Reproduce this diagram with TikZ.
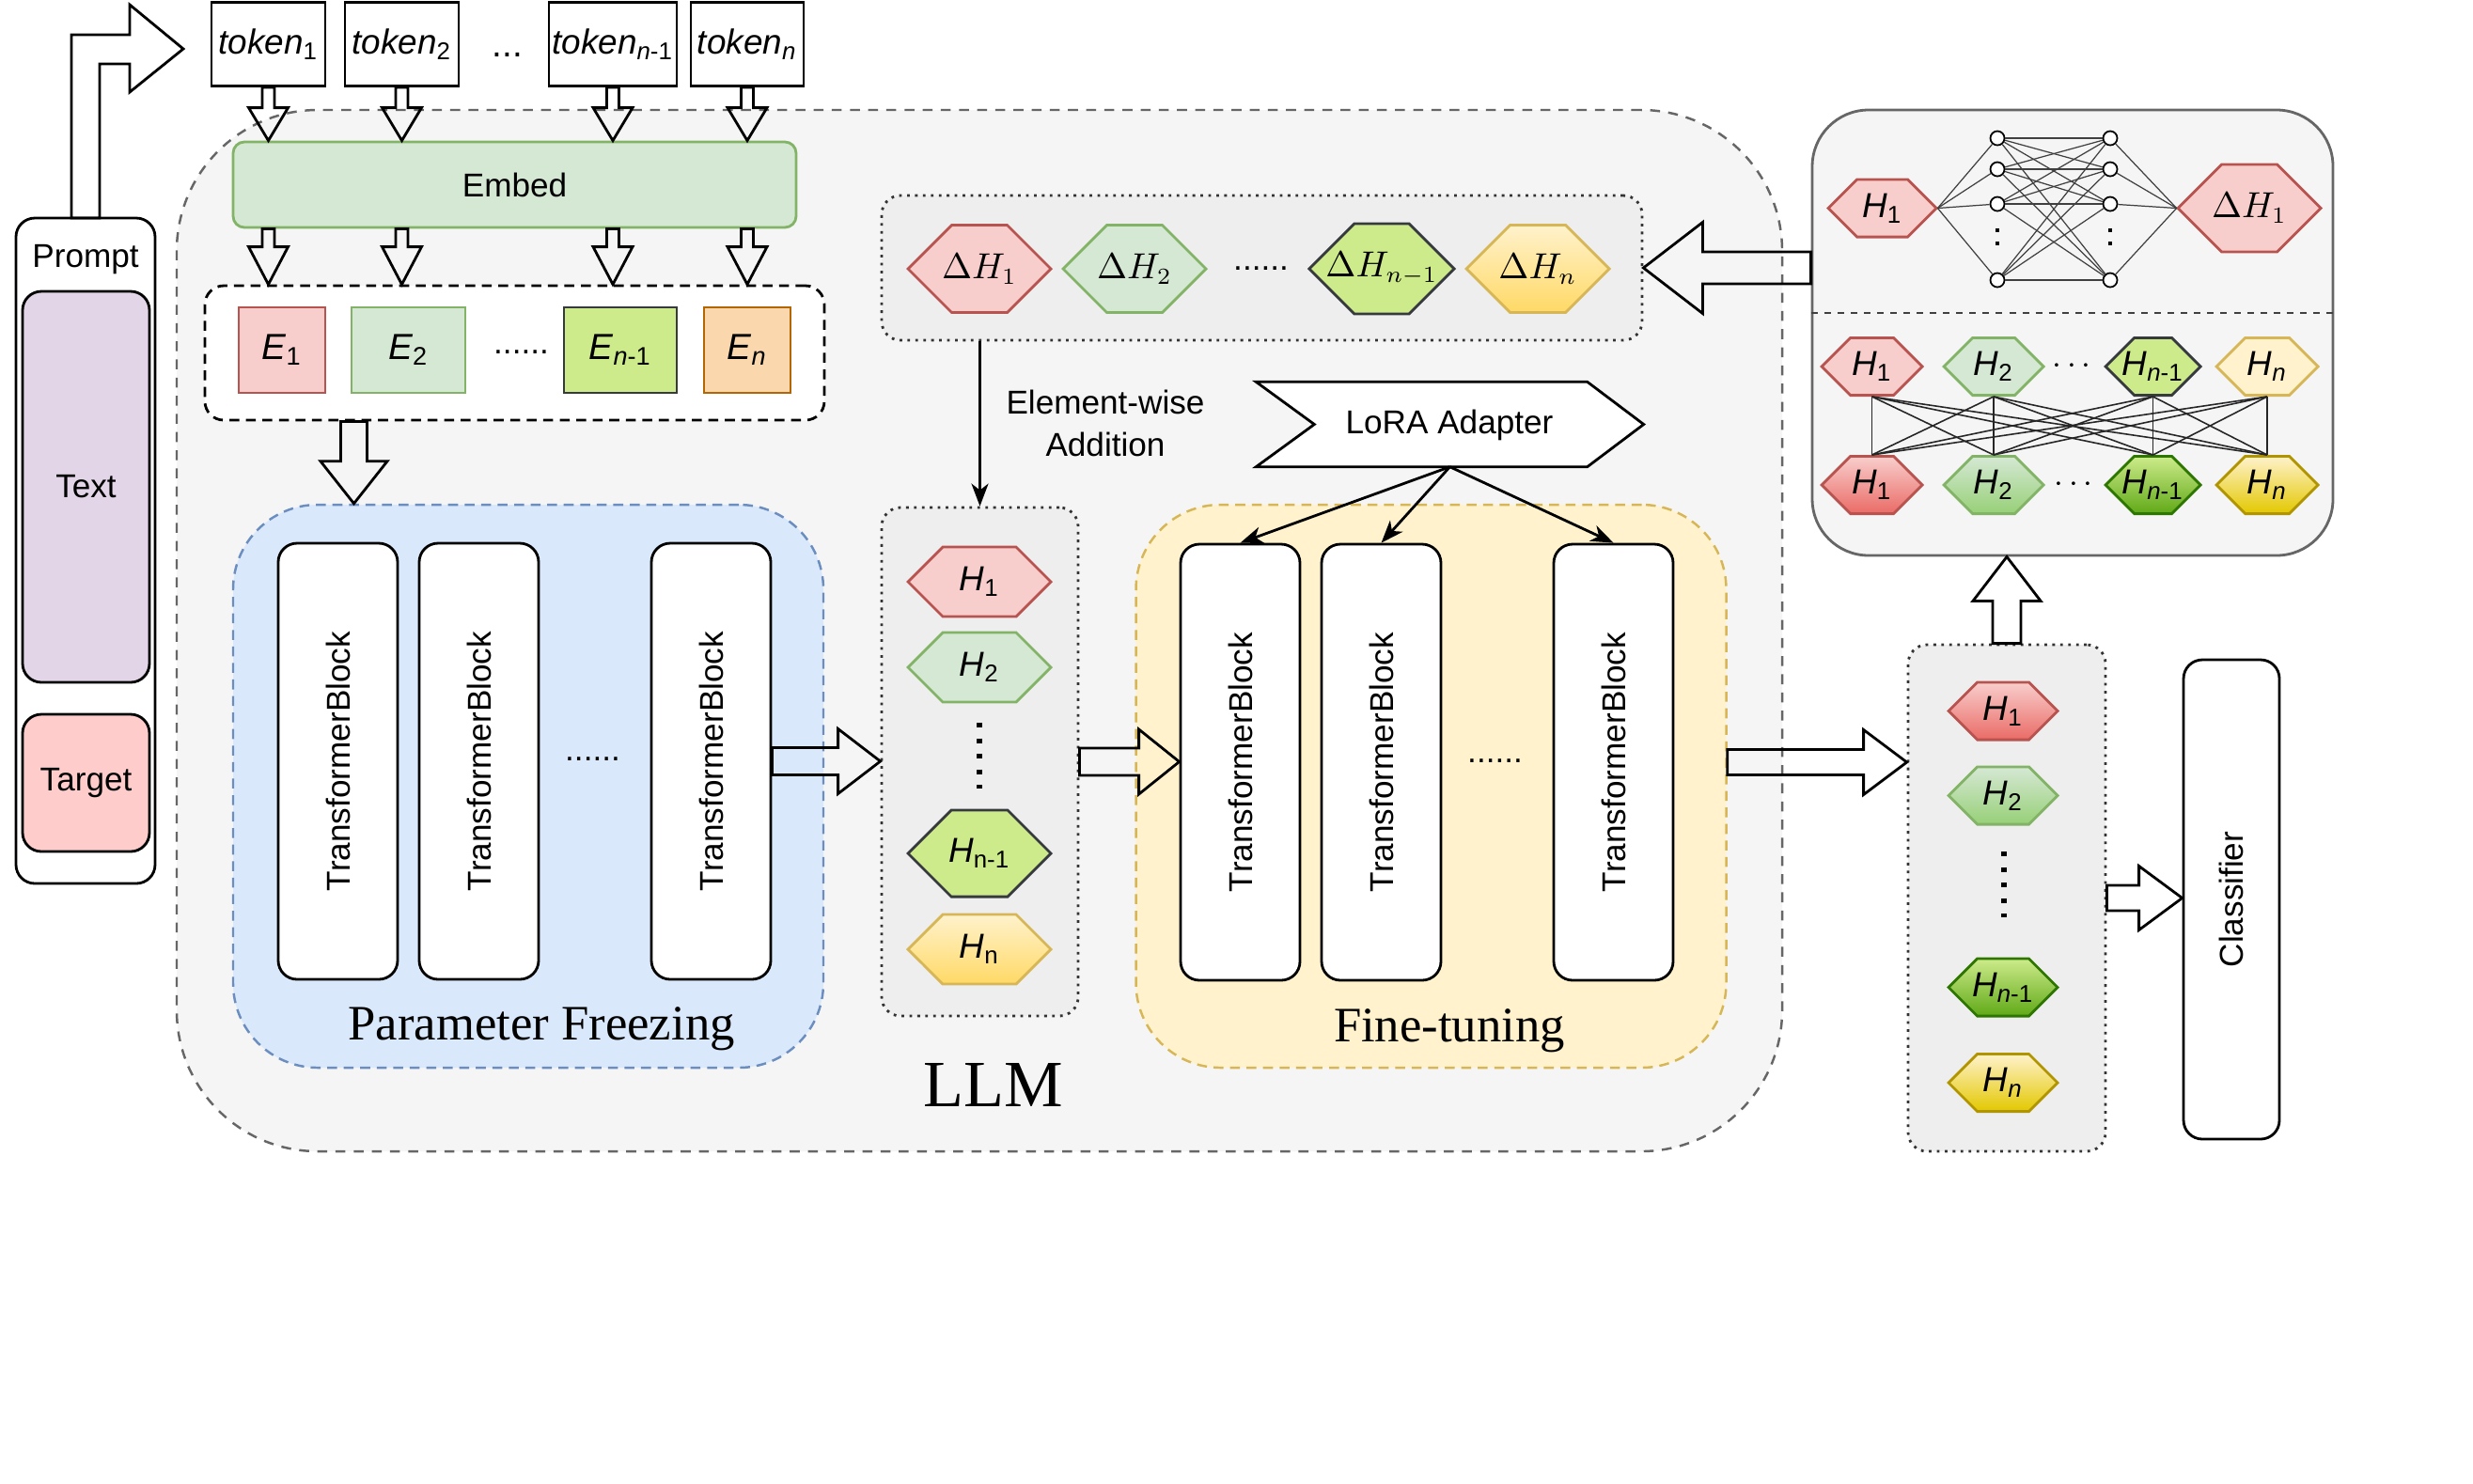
\documentclass[tikz,border=0pt]{standalone}
\usepackage{fontspec}
\setmainfont{Liberation Sans}
\newfontfamily\timesfont{Liberation Serif}
\usepackage{tikz}
\usetikzlibrary{calc,arrows.meta,shapes.misc}

\definecolor{redF}{HTML}{F8CECC}
\definecolor{redS}{HTML}{B85450}
\definecolor{redD}{HTML}{EA6B66}
\definecolor{greenF}{HTML}{D5E8D4}
\definecolor{greenS}{HTML}{82B366}
\definecolor{greenD}{HTML}{97D077}
\definecolor{limeF}{HTML}{CDEB8B}
\definecolor{limeS}{HTML}{36393D}
\definecolor{limeD}{HTML}{60A917}
\definecolor{limeDS}{HTML}{2D7600}
\definecolor{yelF}{HTML}{FFF2CC}
\definecolor{yelS}{HTML}{D6B656}
\definecolor{yelM}{HTML}{FFD966}
\definecolor{yelD}{HTML}{E3C800}
\definecolor{yelDS}{HTML}{B09500}
\definecolor{orangeF}{HTML}{FAD7AC}
\definecolor{orangeS}{HTML}{B46504}
\definecolor{blueF}{HTML}{DAE8FC}
\definecolor{blueS}{HTML}{6C8EBF}
\definecolor{purF}{HTML}{E1D5E7}
\definecolor{targetF}{HTML}{FFCCCC}
\definecolor{greyF}{HTML}{F5F5F5}
\definecolor{greyS}{HTML}{666666}
\definecolor{boxF}{HTML}{EEEEEE}

\newcommand{\hsub}[2]{\textit{#1}\textsubscript{#2}}
% hollow block arrow: from, to, shaft half width, head half width, head length
\newcommand{\fatarrow}[5]{%
  \coordinate (fabase) at ($(#2)!#5!(#1)$);
  \draw[hollow] ($(#1)!#3!90:(#2)$) -- ($(fabase)!#3!90:(#2)$) -- ($(fabase)!#4!90:(#2)$) -- (#2)
    -- ($(fabase)!#4!-90:(#2)$) -- ($(fabase)!#3!-90:(#2)$) -- ($(#1)!#3!-90:(#2)$) -- cycle;}

\tikzset{
  every node/.style={font=\fontsize{10}{12}\selectfont},
  llmframe/.style={draw=greyS, fill=greyF, line width=0.7pt, dash pattern=on 3pt off 2.5pt,
    rounded corners=1.5cm, minimum width=17.08cm, minimum height=11.08cm},
  plainbox/.style={draw, line width=0.8pt, inner sep=0pt},
  rbox/.style={plainbox, rounded corners=0.2cm},
  tokbox/.style={plainbox, minimum height=0.89cm, font=\fontsize{10.5}{12}\selectfont},
  ebox/.style={draw, line width=0.8pt, minimum height=0.91cm, inner sep=0pt, font=\fontsize{11}{13}\selectfont},
  tblock/.style={rbox, fill=white, minimum width=1.27cm, minimum height=4.64cm, font=\fontsize{10}{12}\selectfont},
  stagebox/.style={line width=0.7pt, dash pattern=on 3pt off 2pt, rounded corners=0.9cm,
    minimum width=6.28cm, minimum height=5.99cm},
  stagetitle/.style={font=\timesfont\fontsize{15}{18}\selectfont},
  dotbox/.style={draw=black!80, fill=boxF, line width=0.8pt, dash pattern=on 0.8pt off 1.6pt, rounded corners=0.2cm},
  hexnode/.style={chamfered rectangle, chamfered rectangle xsep=0.57cm, chamfered rectangle ysep=0.305cm,
    minimum width=1.52cm, minimum height=0.61cm, inner sep=0pt, line width=0.8pt, font=\fontsize{10.5}{12}\selectfont},
  octnode/.style={chamfered rectangle, chamfered rectangle xsep=0.27cm, chamfered rectangle ysep=0.15cm,
    minimum height=0.61cm, inner sep=0pt, line width=0.8pt, font=\fontsize{10.5}{12}\selectfont},
  hollow/.style={draw, line width=0.8pt, line join=miter},
  thinarrow/.style={line width=0.8pt, -{Stealth[length=2.4mm,width=1.8mm,inset=0.7mm]}},
  dotsline/.style={line width=1.5pt, dash pattern=on 1.5pt off 3.2pt},
  smalldots/.style={line width=1.2pt, dash pattern=on 1.2pt off 2.8pt},
  nnunit/.style={circle, draw, fill=white, line width=0.5pt, minimum size=0.15cm, inner sep=0pt},
  nnline/.style={line width=0.35pt, black!75},
  meshline/.style={line width=0.45pt, black!85},
  divider/.style={line width=0.6pt, black!75, dash pattern=on 2pt off 2pt},
}

\begin{document}
\begin{tikzpicture}
  \useasboundingbox (0,0) rectangle (26.31,-15.78);
  \fill[white] (0,0) rectangle (26.31,-15.78);

  % LLM frame
  \node[llmframe] (llm) at (10.42,-6.71) {};
  \node[font=\timesfont\fontsize{20}{24}\selectfont] (llmlabel) at (10.57,-11.54) {LLM};

  % prompt
  \node[rbox, fill=white, minimum width=1.48cm, minimum height=7.08cm] (prompt) at (0.91,-5.86) {};
  \node (prompttxt) at (0.91,-2.76) {Prompt};
  \node[rbox, fill=purF, minimum width=1.35cm, minimum height=4.16cm] (text) at (0.915,-5.18) {Text};
  \node[rbox, fill=targetF, minimum width=1.35cm, minimum height=1.46cm] (target) at (0.915,-8.33) {Target};
  \draw[hollow] (0.76,-2.32) -- (0.76,-0.37) -- (1.38,-0.37) -- (1.38,-0.05) -- (1.95,-0.52)
    -- (1.38,-0.98) -- (1.38,-0.68) -- (1.06,-0.68) -- (1.06,-2.32) -- cycle;

  % tokens
  \node[tokbox, minimum width=1.21cm] (tok1) at (2.855,-0.47) {\hsub{token}{1}};
  \node[tokbox, minimum width=1.21cm] (tok2) at (4.275,-0.47) {\hsub{token}{2}};
  \node[font=\fontsize{11}{13}\selectfont] (tokdots) at (5.40,-0.58) {...};
  \node[tokbox, minimum width=1.36cm] (tokm) at (6.52,-0.47) {\hsub{token}{\textit{n}-1}};
  \node[tokbox, minimum width=1.20cm] (tokn) at (7.95,-0.47) {\hsub{token}{\textit{n}}};

  % embedding
  \node[rbox, draw=greenS, fill=greenF, rounded corners=0.12cm, minimum width=5.99cm, minimum height=0.91cm] (embed) at (5.475,-1.965) {Embed};
  \node[plainbox, fill=white, dash pattern=on 3pt off 2pt, rounded corners=0.2cm, minimum width=6.59cm, minimum height=1.43cm] (ebox) at (5.475,-3.755) {};
  \node[ebox, draw=redS, fill=redF, minimum width=0.92cm] (e1) at (3.00,-3.725) {\hsub{E}{1}};
  \node[ebox, draw=greenS, fill=greenF, minimum width=1.21cm] (e2) at (4.345,-3.725) {\hsub{E}{2}};
  \node (edots) at (5.545,-3.75) {......};
  \node[ebox, draw=limeS, fill=limeF, minimum width=1.20cm] (em) at (6.60,-3.725) {\hsub{E}{\textit{n}-1}};
  \node[ebox, draw=orangeS, fill=orangeF, minimum width=0.92cm] (en) at (7.95,-3.725) {\hsub{E}{\textit{n}}};
  \foreach \t in {tok1,tok2,tokm,tokn} {
    \fatarrow{\t.south}{\t.south |- embed.north}{0.065cm}{0.21cm}{0.35cm}
    \fatarrow{\t.south |- embed.south}{\t.south |- ebox.north}{0.065cm}{0.21cm}{0.40cm}
  }

  % frozen blocks
  \node[stagebox, draw=blueS, fill=blueF] (frozen) at (5.62,-8.365) {};
  \node[stagetitle] (frozentitle) at (5.76,-10.95) {Parameter Freezing};
  \foreach \n/\x in {fz1/3.595,fz2/5.095,fz3/7.565}
    \node[tblock] (\n) at (\x,-8.10) {\rotatebox{90}{TransformerBlock}};
  \node (fzdots) at (6.305,-8.08) {......};
  \path (ebox.south) ++(-1.71,0) coordinate (e2f);
  \fatarrow{e2f}{e2f |- frozen.north}{0.14cm}{0.355cm}{0.45cm}

  % hidden states inside the LLM
  \node[dotbox, minimum width=2.09cm, minimum height=5.41cm] (hcol) at (10.425,-8.105) {};
  \node[hexnode, draw=redS, fill=redF] (h1) at (10.42,-6.19) {\hsub{H}{1}};
  \node[hexnode, draw=greenS, fill=greenF] (h2) at (10.42,-7.10) {\hsub{H}{2}};
  \draw[dotsline] (10.42,-7.69) -- (10.42,-8.39);
  \node[hexnode, draw=limeS, fill=limeF] (hm) at (10.42,-9.08) {\hsub{H}{n-1}};
  \node[hexnode, draw=yelS, top color=yelF, bottom color=yelM] (hn) at (10.42,-10.10) {\hsub{H}{n}};

  % delta H
  \node[dotbox, minimum width=8.09cm, minimum height=1.54cm] (dbox) at (13.425,-2.85) {};
  \node[hexnode, draw=redS, fill=redF] (dh1) at (10.42,-2.86) {$\Delta H_1$};
  \node[hexnode, draw=greenS, fill=greenF] (dh2) at (12.07,-2.86) {$\Delta H_2$};
  \node (dhdots) at (13.415,-2.86) {......};
  \node[hexnode, draw=limeS, fill=limeF] (dhm) at (14.70,-2.86) {$\Delta H_{n-1}$};
  \node[hexnode, draw=yelS, top color=yelF, bottom color=yelM] (dhn) at (16.36,-2.86) {$\Delta H_n$};
  \draw[thinarrow] (hcol.north |- dbox.south) -- (hcol.north);
  \node[align=center, font=\fontsize{10}{12.8}\selectfont] (addlabel) at (11.76,-4.50) {Element-wise\\Addition};

  % LoRA adapter
  \node[minimum width=4.11cm, minimum height=0.89cm, inner sep=0pt] (lora) at (15.425,-4.515) {};
  \draw[draw, fill=white, line width=0.8pt] (lora.north west) -- ([xshift=-0.6cm]lora.north east) -- (lora.east)
    -- ([xshift=-0.6cm]lora.south east) -- (lora.south west) -- ([xshift=0.62cm]lora.west) -- cycle;
  \node (loratext) at (15.42,-4.52) {LoRA Adapter};

  % fine-tuned blocks
  \node[stagebox, draw=yelS, fill=yelF] (fine) at (15.225,-8.365) {};
  \node[stagetitle] (finetitle) at (15.42,-10.97) {Fine-tuning};
  \foreach \n/\x in {ft1/13.195,ft2/14.695,ft3/17.165}
    \node[tblock] (\n) at (\x,-8.11) {\rotatebox{90}{TransformerBlock}};
  \node (ftdots) at (15.905,-8.10) {......};
  \foreach \t in {ft1,ft2,ft3}
    \draw[thinarrow] (lora.south) -- (\t.north);

  % output hidden states
  \node[dotbox, minimum width=2.10cm, minimum height=5.39cm] (rcol) at (21.35,-9.555) {};
  \node[octnode, minimum width=1.16cm, draw=redS, top color=redF, bottom color=redD] (r1) at (21.31,-7.565) {\hsub{H}{1}};
  \node[octnode, minimum width=1.16cm, draw=greenS, top color=greenF, bottom color=greenD] (r2) at (21.31,-8.465) {\hsub{H}{2}};
  \draw[dotsline] (21.32,-9.06) -- (21.32,-9.76);
  \node[octnode, minimum width=1.16cm, draw=limeDS, top color=limeF, bottom color=limeD] (r3) at (21.31,-10.505) {\hsub{H}{\textit{n}-1}};
  \node[octnode, minimum width=1.16cm, draw=yelDS, top color=yelF, bottom color=yelD] (r4) at (21.31,-11.52) {\hsub{H}{\textit{n}}};
  \node[rbox, fill=white, minimum width=1.02cm, minimum height=5.10cm] (clf) at (23.74,-9.57) {\rotatebox{90}{Classifier}};

  % adapter detail panel
  \node[draw=greyS, fill=greyF, line width=0.8pt, rounded corners=0.6cm, minimum width=5.54cm, minimum height=4.74cm] (panel) at (22.05,-3.54) {};
  \draw[divider] (panel.west |- 0,-3.33) -- (panel.east |- 0,-3.33);
  \node[octnode, minimum width=1.15cm, draw=redS, fill=redF] (p0) at (20.025,-2.215) {\hsub{H}{1}};
  \node[hexnode, draw=redS, fill=redF] (pd) at (23.93,-2.215) {$\Delta H_1$};
  \foreach \i/\y in {1/-1.47,2/-1.80,3/-2.17,4/-2.98} {
    \node[nnunit] (a\i) at (21.25,\y) {};
    \node[nnunit] (b\i) at (22.45,\y) {};
  }
  \draw[smalldots] (21.25,-2.43) -- (21.25,-2.70);
  \draw[smalldots] (22.45,-2.43) -- (22.45,-2.70);
  \foreach \i in {1,...,4} {
    \draw[nnline] (p0.east) -- (a\i);
    \draw[nnline] (b\i) -- (pd.west);
    \foreach \j in {1,...,4}
      \draw[nnline] (a\i) -- (b\j);
  }
  \node[octnode, minimum width=1.07cm, chamfered rectangle xsep=0.25cm, draw=redS, fill=redF] (q1) at (19.915,-3.90) {\hsub{H}{1}};
  \node[octnode, minimum width=1.06cm, chamfered rectangle xsep=0.25cm, draw=greenS, fill=greenF] (q2) at (21.21,-3.90) {\hsub{H}{2}};
  \node (qdots) at (22.04,-3.90) {$\cdots$};
  \node[octnode, minimum width=1.01cm, chamfered rectangle xsep=0.25cm, draw=limeS, fill=limeF] (q3) at (22.905,-3.90) {\hsub{H}{\textit{n}-1}};
  \node[octnode, minimum width=1.08cm, chamfered rectangle xsep=0.25cm, draw=yelS, fill=yelF] (q4) at (24.12,-3.90) {\hsub{H}{\textit{n}}};
  \node[octnode, minimum width=1.07cm, chamfered rectangle xsep=0.25cm, draw=redS, top color=redF, bottom color=redD] (s1) at (19.915,-5.16) {\hsub{H}{1}};
  \node[octnode, minimum width=1.06cm, chamfered rectangle xsep=0.25cm, draw=greenS, top color=greenF, bottom color=greenD] (s2) at (21.21,-5.16) {\hsub{H}{2}};
  \node (sdots) at (22.06,-5.16) {$\cdots$};
  \node[octnode, minimum width=1.01cm, chamfered rectangle xsep=0.25cm, draw=limeDS, top color=limeF, bottom color=limeD] (s3) at (22.905,-5.16) {\hsub{H}{\textit{n}-1}};
  \node[octnode, minimum width=1.08cm, chamfered rectangle xsep=0.25cm, draw=yelDS, top color=yelF, bottom color=yelD] (s4) at (24.12,-5.16) {\hsub{H}{\textit{n}}};
  \foreach \i in {1,...,4}
    \foreach \j in {1,...,4}
      \draw[meshline] (q\i.south) -- (s\j.north);

  % block arrows
  \fatarrow{fz3.east}{fz3.east -| hcol.west}{0.145cm}{0.345cm}{0.45cm}
  \fatarrow{hcol.east}{hcol.east -| ft1.west}{0.145cm}{0.345cm}{0.43cm}
  \fatarrow{ft3.east -| fine.east}{ft3.east -| rcol.west}{0.135cm}{0.345cm}{0.46cm}
  \fatarrow{rcol.east}{rcol.east -| clf.west}{0.135cm}{0.34cm}{0.46cm}
  \fatarrow{rcol.north}{rcol.north |- panel.south}{0.15cm}{0.36cm}{0.47cm}
  \fatarrow{dbox.east -| panel.west}{dbox.east}{0.17cm}{0.485cm}{0.63cm}
\end{tikzpicture}
\end{document}
